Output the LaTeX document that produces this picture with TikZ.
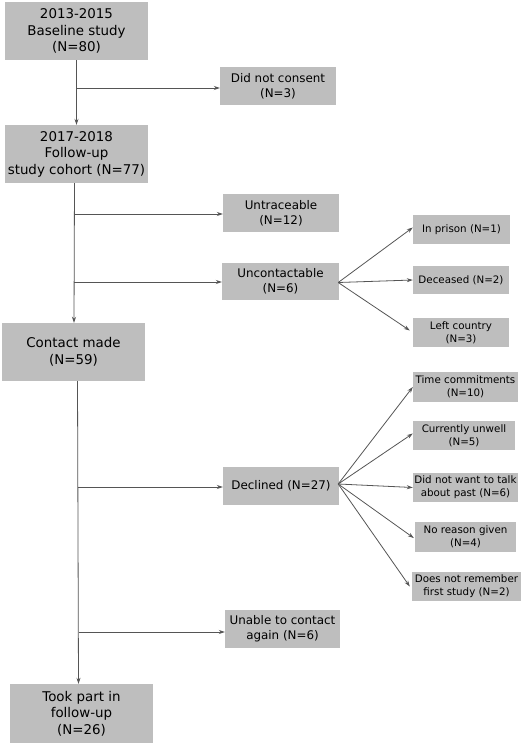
\documentclass[tikz,border=0pt]{standalone}
\usepackage{fontspec}
\setmainfont{DejaVu Sans}
\usetikzlibrary{arrows.meta}
\definecolor{boxgray}{RGB}{190,190,190}
\definecolor{linegray}{RGB}{85,85,85}
\tikzset{
  box/.style={fill=boxgray, inner sep=0pt, align=center, text=black},
  big/.style={box, font=\fontsize{13.4}{16.5}\selectfont},
  mid/.style={box, font=\fontsize{11.9}{15}\selectfont},
  small/.style={box, font=\fontsize{10.3}{13.2}\selectfont},
  arr/.style={draw=linegray, line width=0.8pt, -{Stealth[length=6pt,width=4pt]}},
  ln/.style={draw=linegray, line width=0.8pt}
}
\begin{document}
\begin{tikzpicture}[x=1pt,y=-1pt]
\useasboundingbox[fill=white] (0,0) rectangle (529,745);
% main column
\node[big, minimum width=143pt, minimum height=58pt] (b1) at (76.5,31) {2013-2015\\Baseline study\\(N=80)};
\node[big, minimum width=143pt, minimum height=58pt] (b2) at (76.5,154) {2017-2018\\Follow-up\\study cohort (N=77)};
\node[big, minimum width=143pt, minimum height=58pt] (contact) at (73.5,352) {Contact made\\(N=59)};
\node[big, minimum width=143pt, minimum height=59pt] (took) at (81.5,713.5) {Took part in\\follow-up\\(N=26)};
% middle column
\node[mid, minimum width=116pt, minimum height=38pt] (dnc) at (278,86) {Did not consent\\(N=3)};
\node[mid, minimum width=116pt, minimum height=38pt] (untr) at (281,213) {Untraceable\\(N=12)};
\node[mid, minimum width=117pt, minimum height=37pt] (uncon) at (280.5,281.5) {Uncontactable\\(N=6)};
\node[mid, minimum width=116pt, minimum height=38pt] (decl) at (281,486) {Declined (N=27)};
\node[mid, minimum width=115pt, minimum height=38pt] (unable) at (282.5,629) {Unable to contact\\again (N=6)};
% right column
\node[small, minimum width=97pt, minimum height=29pt] (prison) at (461.5,229.5) {In prison (N=1)};
\node[small, minimum width=96pt, minimum height=28pt] (dec) at (461,280) {Deceased (N=2)};
\node[small, minimum width=96pt, minimum height=29pt] (left) at (461,332.5) {Left country\\(N=3)};
\node[small, minimum width=105pt, minimum height=30pt] (time) at (465.5,387) {Time commitments\\(N=10)};
\node[small, minimum width=102pt, minimum height=29pt] (unwell) at (464,435.5) {Currently unwell\\(N=5)};
\node[small, minimum width=105pt, minimum height=29pt] (talk) at (465.5,487.5) {Did not want to talk\\about past (N=6)};
\node[small, minimum width=101pt, minimum height=30pt] (noreason) at (465.5,537) {No reason given\\(N=4)};
\node[small, minimum width=109pt, minimum height=29pt] (remember) at (466.5,586.5) {Does not remember\\first study (N=2)};
% trunk
\draw[arr] (b1.south) -- (b2.north);
\draw[arr] ([xshift=-2pt]b2.south) -- ([xshift=0.5pt]contact.north);
\draw[arr] ([xshift=4pt]contact.south) -- ([xshift=-3pt]took.north);
% junctions
\coordinate (j1) at (76.5,88);
\coordinate (j2) at (74,214);
\coordinate (j3) at (74,282);
\coordinate (j4) at (78,487);
\coordinate (j5) at (78.5,632);
\draw[arr] (j1) -- (j1 -| dnc.west);
\draw[arr] (j2) -- (j2 -| untr.west);
\draw[arr] (j3) -- (j3 -| uncon.west);
\draw[arr] (j4) -- (j4 -| decl.west);
\draw[arr] (j5) -- (j5 -| unable.west);
% fans
\draw[arr] ([xshift=-1pt,yshift=-1pt]uncon.east) -- ([yshift=2pt]prison.west);
\draw[arr] ([xshift=-1pt,yshift=-1pt]uncon.east) -- (dec.west);
\draw[arr] ([xshift=-1pt,yshift=-1pt]uncon.east) -- ([xshift=-3pt,yshift=2pt]left.west);
\draw[arr] ([xshift=-1pt,yshift=2pt]decl.east) -- (time.west);
\draw[arr] ([xshift=-1pt,yshift=2pt]decl.east) -- ([yshift=2pt]unwell.west);
\draw[arr] ([xshift=-1pt,yshift=2pt]decl.east) -- (talk.west);
\draw[arr] ([xshift=-1pt,yshift=2pt]decl.east) -- ([xshift=-1pt,yshift=-1pt]noreason.west);
\draw[arr] ([xshift=-1pt,yshift=2pt]decl.east) -- ([xshift=-2pt]remember.west);
\end{tikzpicture}
\end{document}
